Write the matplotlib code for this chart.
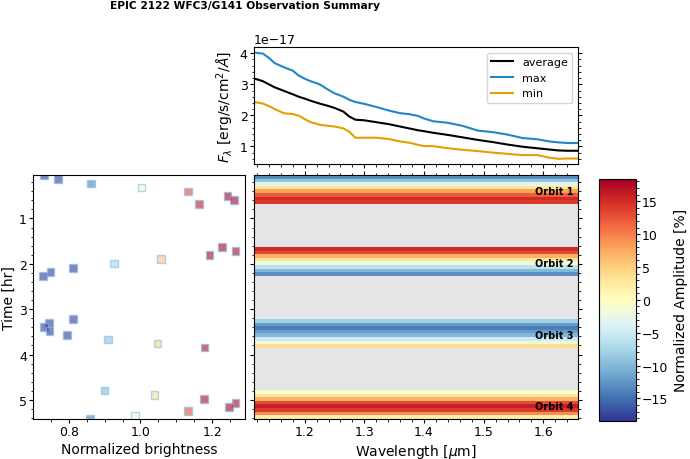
import numpy as np
import matplotlib
matplotlib.use('Agg')
import matplotlib.pyplot as plt

# spectrum (flux in units of 1e-17 erg/s/cm2/A)
wave = [1.115, 1.13, 1.14, 1.15, 1.165, 1.18, 1.19, 1.20, 1.21, 1.225, 1.24, 1.25,
        1.265, 1.275, 1.285, 1.30, 1.32, 1.34, 1.36, 1.375, 1.39, 1.40, 1.415, 1.44,
        1.465, 1.49, 1.515, 1.54, 1.565, 1.59, 1.61, 1.625, 1.64, 1.658]
flux_max = [4.02, 3.99, 3.85, 3.68, 3.55, 3.44, 3.28, 3.18, 3.10, 3.00, 2.82, 2.71,
            2.60, 2.50, 2.43, 2.37, 2.27, 2.16, 2.07, 2.04, 1.98, 1.90, 1.81, 1.76,
            1.66, 1.51, 1.46, 1.38, 1.27, 1.23, 1.16, 1.13, 1.11, 1.11]
flux_avg = [3.19, 3.10, 3.00, 2.90, 2.79, 2.68, 2.60, 2.54, 2.47, 2.38, 2.30, 2.24,
            2.12, 1.96, 1.86, 1.84, 1.78, 1.72, 1.64, 1.58, 1.52, 1.49, 1.44, 1.37,
            1.29, 1.21, 1.14, 1.06, 0.99, 0.94, 0.90, 0.87, 0.86, 0.86]
flux_min = [2.43, 2.38, 2.30, 2.20, 2.07, 2.04, 1.99, 1.88, 1.78, 1.70, 1.66, 1.64,
            1.58, 1.47, 1.28, 1.28, 1.28, 1.24, 1.16, 1.12, 1.05, 1.01, 1.01, 0.94,
            0.89, 0.85, 0.80, 0.76, 0.72, 0.72, 0.64, 0.60, 0.61, 0.61]

# exposure times [hr] and normalized brightness, one list per orbit
orbit_times = [
    [0.046, 0.134, 0.229, 0.317, 0.410, 0.510, 0.597, 0.685],
    [1.624, 1.712, 1.808, 1.896, 1.991, 2.086, 2.174, 2.263],
    [3.218, 3.306, 3.394, 3.483, 3.570, 3.665, 3.753, 3.848],
    [4.795, 4.891, 4.980, 5.068, 5.156, 5.244, 5.339, 5.420],
]
orbit_bright = [
    [0.730, 0.770, 0.861, 1.003, 1.132, 1.243, 1.261, 1.163],
    [1.228, 1.265, 1.193, 1.058, 0.926, 0.812, 0.749, 0.727],
    [0.812, 0.744, 0.730, 0.746, 0.795, 0.909, 1.048, 1.179],
    [0.900, 1.039, 1.177, 1.265, 1.247, 1.132, 0.984, 0.859],
]
# amplitude [%] of each exposure row in the dynamic spectrum
orbit_amp = [
    [-13, -9, -3, 3, 8, 12, 15, 14],
    [15, 13, 7, 3, -2, -6, -10, -13],
    [-8, -12, -14, -12, -10, -5, -2, 4],
    [-1, 3, 7, 13, 16, 14, 9, 2],
]
orbit_names = ['Orbit 1', 'Orbit 2', 'Orbit 3', 'Orbit 4']

vlim = 18.4
cmap = 'RdYlBu_r'
wmin, wmax = wave[0], wave[-1]

plt.rcParams.update({
    'xtick.labelsize': 9, 'ytick.labelsize': 9,
    'xtick.major.size': 3, 'ytick.major.size': 3,
    'xtick.minor.size': 1.8, 'ytick.minor.size': 1.8,
    'xtick.major.pad': 1.5, 'ytick.major.pad': 1.5,
    'xtick.minor.pad': 1.5, 'ytick.minor.pad': 1.5,
    'axes.labelpad': 2.5,
})

fig = plt.figure(figsize=(6.9, 4.6), dpi=100)
ax_spec = fig.add_axes([0.368, 0.641, 0.4696, 0.254])
ax_lc = fig.add_axes([0.048, 0.087, 0.307, 0.530])
ax_img = fig.add_axes([0.368, 0.087, 0.4696, 0.530], sharey=ax_lc)
cax = fig.add_axes([0.868, 0.083, 0.0536, 0.526])

fig.suptitle('EPIC 2122 WFC3/G141 Observation Summary', x=0.355, y=0.997,
             fontsize=7.7, fontweight='bold', va='top')

# top: spectra
w = np.array(wave)
ax_spec.plot(w, np.array(flux_avg) * 1e-17, color='black', lw=1.5, label='average')
ax_spec.plot(w, np.array(flux_max) * 1e-17, color='#1f86c8', lw=1.5, label='max')
ax_spec.plot(w, np.array(flux_min) * 1e-17, color='#e69f00', lw=1.5, label='min')
ax_spec.set_xlim(wmin, wmax)
ax_spec.set_ylabel(r'$F_\lambda$ [erg/s/cm$^2$/$\AA$]')
ax_spec.legend(loc='upper right', fontsize=8)
ax_spec.minorticks_on()
ax_spec.tick_params(which='both', right=True, labelbottom=False)

# left: light curve
t_all = np.concatenate(orbit_times)
b_all = np.concatenate(orbit_bright)
ax_lc.scatter(b_all, t_all, c=(b_all - 1) * 100, cmap=cmap, vmin=-vlim, vmax=vlim,
              marker='s', s=30, alpha=0.6, edgecolors='#7cbde8', linewidths=1)
ax_lc.set_xlabel('Normalized brightness')
ax_lc.set_ylabel('Time [hr]')
ax_lc.minorticks_on()

# middle: dynamic spectrum
ax_img.set_facecolor('#e5e5e5')
for times, amp, name in zip(orbit_times, orbit_amp, orbit_names):
    im = ax_img.imshow(np.array(amp, dtype=float)[:, None], cmap=cmap,
                       vmin=-vlim, vmax=vlim, aspect='auto', origin='upper',
                       extent=(wmin, wmax, times[-1], times[0]))
    ax_img.text(1.65, np.mean(times) + 0.03, name, ha='right', va='center',
                fontsize=7, fontweight='bold')
ax_img.set_xlim(wmin, wmax)
ax_img.set_ylim(t_all.max(), t_all.min())
ax_img.set_xlabel(r'Wavelength [$\mu$m]')
ax_img.minorticks_on()
ax_img.tick_params(which='both', top=True, right=True, labelleft=False)

cb = fig.colorbar(im, cax=cax)
cb.set_label('Normalized Amplitude [%]', labelpad=4)
cb.set_ticks([-15, -10, -5, 0, 5, 10, 15])
cb.minorticks_on()

fig.savefig('out.png', dpi=100)
